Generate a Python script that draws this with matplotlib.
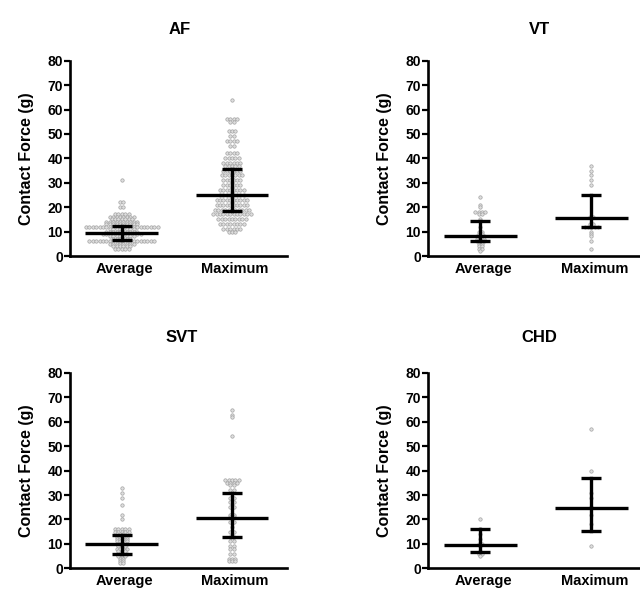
import numpy as np
import matplotlib
matplotlib.use("Agg")
import matplotlib.pyplot as plt
import matplotlib.transforms as mtransforms

plt.rcParams['font.family'] = ['Liberation Sans', 'DejaVu Sans']
plt.rcParams['font.weight'] = 'bold'

groups = ["Average", "Maximum"]
titles = ["AF", "VT", "SVT", "CHD"]

# values (g), as (value, count) pairs
af_avg = [(31, 1), (22, 2), (20, 2), (17, 5), (16, 8), (15, 7), (14, 10), (13, 10),
          (12, 22), (11, 8), (10, 10), (9, 12), (8, 8), (7, 6), (6, 20), (5, 8),
          (4, 6), (3, 5)]
af_max = [(64, 1), (56, 4), (55, 2), (51, 3), (49, 2), (47, 4), (45, 2), (42, 4), (40, 5),
          (38, 6), (37, 5), (35, 6), (33, 7), (31, 6), (29, 6), (27, 8), (25, 8),
          (23, 10), (21, 10), (19, 11), (17, 12), (15, 9), (13, 8), (11, 6), (10, 3)]
vt_avg = [(24, 1), (21, 1), (20, 1), (18, 4), (17, 2), (15, 1), (12, 1), (10, 2), (9, 2),
          (8, 3), (7, 3), (6, 3), (5, 2), (4, 2), (3, 2), (2, 1)]
vt_max = [(37, 1), (35, 1), (33, 1), (31, 1), (29, 1), (16, 2), (13, 2), (12, 5),
          (10, 1), (9, 1), (8, 1), (6, 1), (3, 1)]
svt_avg = [(33, 1), (31, 1), (29, 1), (26, 1), (22, 1), (20, 1), (16, 5), (15, 5), (14, 4),
           (13, 4), (12, 4), (11, 4), (10, 4), (9, 3), (8, 4), (7, 3), (6, 4), (5, 3),
           (4, 2), (3, 2), (2, 2)]
svt_max = [(65, 1), (63, 1), (62, 1), (54, 1), (36, 5), (35, 4), (34, 2), (32, 2), (29, 2),
           (27, 2), (25, 2), (22, 2), (21, 2), (19, 2), (17, 1), (15, 2), (13, 2), (11, 2),
           (9, 2), (8, 2), (6, 2), (4, 3), (3, 3)]
chd_avg = [(20, 1), (16, 1), (14, 1), (12, 1), (10, 2), (9, 1), (7, 1), (6, 2), (5, 1)]
chd_max = [(57, 1), (40, 1), (31, 1), (29, 1), (25, 1), (22, 1), (18, 1), (9, 1)]

# centre line and error bar ends (low, high) per group
centers = [[9.3, 25.0], [8.2, 15.7], [10.0, 20.8], [9.4, 24.7]]
lows = [[6.5, 18.5], [6.0, 12.0], [5.8, 12.8], [6.8, 15.3]]
highs = [[12.3, 35.5], [14.3, 25.0], [13.8, 31.0], [16.0, 37.0]]

points = [[af_avg, af_max], [vt_avg, vt_max], [svt_avg, svt_max], [chd_avg, chd_max]]

W, H = 640, 599
fig = plt.figure(figsize=(W / 100, H / 100), dpi=100)

# axes boxes in pixels: left, top(80), width, bottom(0)
boxes = [(70, 60.7, 217, 256), (428, 60.7, 219, 256),
         (70, 373, 217, 568.3), (428, 373, 219, 568.3)]
title_xy = [(180, 29), (539, 29), (182, 337), (539, 338)]

dx = 0.031
for k, (l, t, w, b) in enumerate(boxes):
    ax = fig.add_axes([l / W, 1 - b / H, w / W, (b - t) / H])
    ax.set_xlim(-0.47, 1.5)
    ax.set_ylim(0, 80)
    for gi in range(2):
        xs, ys = [], []
        for val, n in points[k][gi]:
            for i in range(n):
                xs.append(gi + (i - (n - 1) / 2) * dx)
                ys.append(val)
        ax.scatter(xs, ys, s=6, facecolor='#dedede', edgecolor='#a2a2a2',
                   linewidth=0.5, zorder=2, clip_on=False)
        c, lo, hi = centers[k][gi], lows[k][gi], highs[k][gi]
        ax.plot([gi - 0.33, gi + 0.33], [c, c], color='black', lw=2.4,
                solid_capstyle='butt', zorder=3)
        ax.plot([gi, gi], [lo, hi], color='black', lw=2.4, zorder=3)
        for yy in (lo, hi):
            ax.plot([gi - 0.09, gi + 0.09], [yy, yy], color='black', lw=2.4,
                    solid_capstyle='butt', zorder=3)
    for s in ('top', 'right'):
        ax.spines[s].set_visible(False)
    for s in ('left', 'bottom'):
        ax.spines[s].set_linewidth(1.9)
    ax.set_yticks(range(0, 81, 10))
    ax.tick_params(axis='y', length=4, width=1.6, labelsize=10, pad=1)
    ax.set_xticks([0, 1])
    ax.set_xticklabels(groups, fontsize=10.5, fontweight='bold')
    ax.tick_params(axis='x', length=0, pad=4)
    off = mtransforms.ScaledTranslation(3 / 100, 0, fig.dpi_scale_trans)
    for lab in ax.get_xticklabels():
        lab.set_transform(lab.get_transform() + off)
    ax.set_ylabel("Contact Force (g)", fontsize=11.5, fontweight='bold', labelpad=10)
    tx, ty = title_xy[k]
    fig.text(tx / W, 1 - ty / H, titles[k], ha='center', va='center',
             fontsize=12, fontweight='bold')

fig.savefig("out.png", dpi=100, facecolor='white')
